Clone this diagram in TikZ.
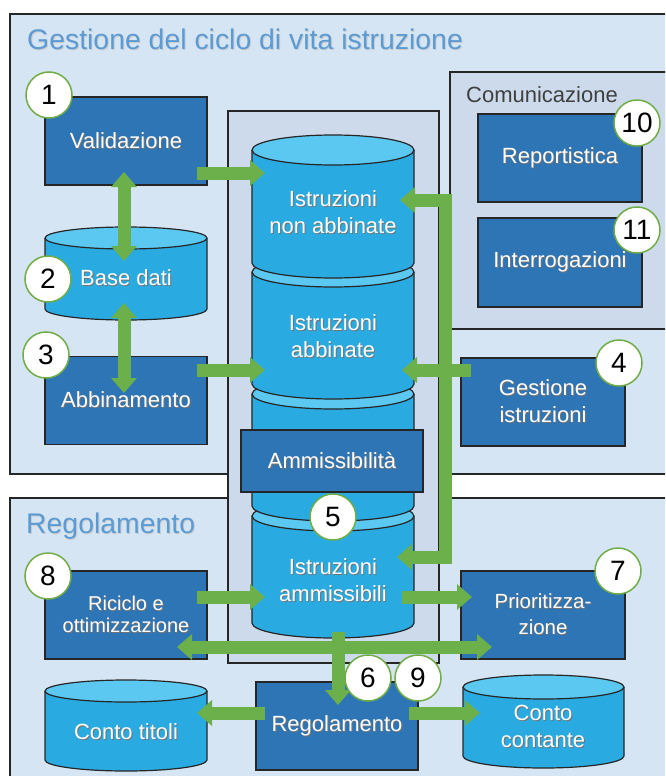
\documentclass[tikz,border=0pt]{standalone}
\usepackage{fontspec}
\setmainfont{Liberation Sans}
\usetikzlibrary{arrows.meta,calc}

\definecolor{panel}{HTML}{D5E5F3}
\definecolor{inner}{HTML}{CDDAEB}
\definecolor{boxblue}{HTML}{2E75B6}
\definecolor{cylbody}{HTML}{29ABE2}
\definecolor{cyltop}{HTML}{5AC8F0}
\definecolor{flow}{HTML}{6CB04B}
\definecolor{ring}{HTML}{70AD47}
\definecolor{titleblue}{HTML}{5B9BD5}
\definecolor{edge}{HTML}{262626}

% white label with a soft dark drop shadow
\newcommand\shd[1]{\leavevmode\rlap{\kern1pt\raisebox{-1pt}{\textcolor{black!55}{#1}}}#1}
\newcommand\tshd[1]{\leavevmode\rlap{\kern1pt\raisebox{-1pt}{\textcolor{black!20}{#1}}}#1}

% drum: left x, right x, top-ellipse y, bottom y, vertical radius
\newcommand\drum[5]{%
  \pgfmathsetmacro\dcx{(#1+#2)/2}%
  \pgfmathsetmacro\drx{(#2-#1)/2}%
  \path[fill=cylbody, draw=edge, line width=1.2pt]
    (#1,#3) -- (#1,#4) arc[start angle=180, end angle=0, x radius=\drx, y radius=#5] -- (#2,#3);
  \draw[fill=cyltop, draw=edge, line width=1.2pt] (\dcx,#3) ellipse[x radius=\drx, y radius=#5];
}

\tikzset{
  box/.style={fill=boxblue, draw=edge, line width=1.2pt, minimum width=162pt,
    minimum height=88pt, inner sep=0pt, text=white, align=center,
    font=\fontsize{22}{27}\selectfont},
  lbl/.style={text=white, align=center, inner sep=0pt, font=\fontsize{22}{27}\selectfont},
  num/.style={circle, fill=white, draw=ring, line width=1.5pt, minimum size=46pt,
    inner sep=0pt, font=\fontsize{28}{28}\selectfont},
  ttl/.style={anchor=base west, inner sep=0pt, text=titleblue, font=\fontsize{28.4}{28.4}\selectfont},
  flowline/.style={draw=flow, line width=13pt},
  arr/.style={flowline, -{Triangle[width=25pt,length=15pt]}},
  darr/.style={flowline, {Triangle[width=25pt,length=15pt]}-{Triangle[width=25pt,length=15pt]}},
}

\begin{document}
\begin{tikzpicture}[x=1pt, y=-1pt]
\useasboundingbox (0,0) rectangle (665,776);
\clip (0,0) rectangle (665,776);

% panels
\draw[fill=panel, draw=edge, line width=1.2pt] (10,14) rectangle (680,474);
\draw[fill=panel, draw=edge, line width=1.2pt] (10,498) rectangle (680,790);
\node[ttl] (t1) at (27,50) {\tshd{Gestione del ciclo di vita istruzione}};
\node[ttl] (t2) at (26,533) {\tshd{Regolamento}};

% central store frame and communication group
\draw[fill=inner, draw=edge, line width=1.2pt] (228,111) rectangle (439,663);
\draw[fill=inner, draw=edge, line width=1.2pt] (450,72) rectangle (680,329);
\node[anchor=base west, inner sep=0pt, text=black!75, font=\fontsize{22}{22}\selectfont]
  (t3) at (466,102) {Comunicazione};

% left column
\node[box] (val) at (126,141) {\shd{Validazione}};
\drum{45}{207}{238}{309}{11}
\node[lbl] (base) at (126,278) {\shd{Base dati}};
\node[box] (abb) at (126,400.5) {\shd{Abbinamento}};

% stacked instruction stores (drawn bottom-up)
\drum{252}{414}{516}{623}{15}
\drum{252}{414}{394}{506}{15}
\drum{252}{414}{272}{384}{15}
\drum{252}{414}{150}{263}{15}
\node[lbl] (nab) at (333,213) {\shd{Istruzioni}\\\shd{non abbinate}};
\node[lbl] (ab) at (333,337) {\shd{Istruzioni}\\\shd{abbinate}};
\node[box, minimum width=182pt, minimum height=62pt] (elig) at (332,461) {\shd{Ammissibilità}};
\node[lbl] (amm) at (333,581) {\shd{Istruzioni}\\\shd{ammissibili}};

% right column
\node[box, minimum width=164pt] (rep) at (560,158) {\shd{Reportistica}};
\node[box, minimum width=164pt, minimum height=89pt] (intr) at (560,262.5) {\shd{Interrogazioni}};
\node[box, minimum width=164pt] (gest) at (543,402) {\shd{Gestione}\\\shd{istruzioni}};

% settlement area
\node[box, font=\fontsize{20}{22}\selectfont] (ric) at (126,615) {\shd{Riciclo e}\\\shd{ottimizzazione}};
\node[box, minimum width=164pt, font=\fontsize{20.5}{26}\selectfont] (prio) at (543,615) {\shd{Prioritizza-}\\\shd{zione}};
\drum{45}{207}{691}{760}{11}
\node[lbl] (tit) at (126,732) {\shd{Conto titoli}};
\drum{463}{624}{687}{756}{12}
\node[lbl] (cash) at (543,727) {\shd{Conto}\\\shd{contante}};
\node[box] (reg) at (337,726) {\shd{Regolamento}};

% flows
\draw[arr] ($(val)+(71,32)$) -- ($(nab)+(-68,-40)$);
\draw[darr] ($(val)+(-2,31)$) -- ($(base)+(-2,-17)$);
\draw[darr] ($(base)+(-2,25)$) -- ($(abb)+(-2,-7.5)$);
\draw[arr] ($(abb)+(71,-30.5)$) -- ($(ab)+(-68,33)$);

% distribution from instruction management
\draw[flowline] ($(gest)+(-98,-208.5)$) coordinate (bt) -- ($(gest)+(-98,161.5)$) coordinate (bb);
\draw[arr] ($(gest)+(-91.5,-202)$) -- ($(nab)+(67,-13)$);
\draw[arr] ($(gest.west)+(11,-32)$) -- ($(ab)+(69,33)$);
\draw[arr] ($(gest)+(-91.5,155)$) -- ($(amm)+(64,-24)$);

\draw[arr] ($(ric)+(71,-18)$) -- ($(amm)+(-68,16)$);
\draw[arr] ($(amm)+(69,16)$) -- ($(prio)+(-71,-18)$);
\draw[darr] ($(ric)+(51,32)$) -- ($(prio)+(-51,32)$);
\draw[arr] ($(amm)+(5,51)$) -- ($(reg)+(1,-21)$);
\draw[arr] ($(reg)+(-72,-13)$) -- ($(tit)+(71,-19)$);
\draw[arr] ($(reg)+(72,-13)$) -- ($(cash)+(-63,-14)$);

% step numbers
\node[num] (n1) at (49,95) {1};
\node[num] (n2) at (48,279) {2};
\node[num] (n3) at (46,355) {3};
\node[num] (n4) at (619,363) {4};
\node[num] (n5) at (333,517) {5};
\node[num] (n6) at (368,678) {6};
\node[num] (n7) at (618,571) {7};
\node[num] (n8) at (48,576) {8};
\node[num] (n9) at (418,678) {9};
\node[num] (n10) at (637,123) {10};
\node[num] (n11) at (637,230) {11};
\end{tikzpicture}
\end{document}
